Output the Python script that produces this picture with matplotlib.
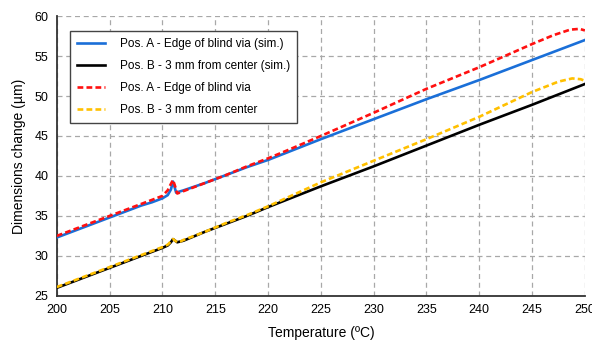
import matplotlib
matplotlib.use("Agg")
import matplotlib.pyplot as plt

plt.rcParams['font.family'] = ['Liberation Sans', 'DejaVu Sans']

# Pos. A simulation (blue)
tA_sim = [200, 202, 204, 206, 208, 209, 210, 210.5, 210.8, 211.0, 211.15, 211.3, 211.5, 212,
          214, 216, 218, 220, 225, 230, 235, 240, 245, 250]
A_sim = [32.3, 33.3, 34.3, 35.3, 36.3, 36.7, 37.2, 37.6, 38.3, 39.3, 38.6, 37.9, 38.0, 38.2,
         39.1, 40.1, 41.1, 42.0, 44.6, 47.1, 49.6, 52.0, 54.5, 57.0]

# Pos. B simulation (black)
tB_sim = [200, 202, 204, 206, 208, 209, 210, 210.5, 210.8, 211.0, 211.2, 211.4, 211.7, 212,
          214, 216, 218, 220, 225, 230, 235, 240, 245, 250]
B_sim = [26.0, 27.0, 28.0, 29.0, 30.0, 30.5, 31.0, 31.3, 31.7, 32.1, 31.9, 31.7, 31.8, 31.9,
         33.0, 34.0, 35.0, 36.1, 38.7, 41.2, 43.8, 46.4, 48.9, 51.5]

# Pos. A measured (red dashed)
tA_exp = [200, 202, 204, 206, 208, 209, 210, 210.5, 210.8, 211.0, 211.2, 211.4, 211.6, 212,
          214, 216, 218, 220, 222, 225, 230, 235, 240, 245, 247, 248.6, 249.5, 250]
A_exp = [32.5, 33.5, 34.5, 35.5, 36.5, 37.0, 37.5, 38.2, 39.0, 39.5, 38.7, 37.8, 37.9, 38.1,
         39.1, 40.1, 41.2, 42.2, 43.3, 45.0, 47.9, 50.9, 53.6, 56.5, 57.6, 58.3, 58.4, 58.2]

# Pos. B measured (yellow dashed)
tB_exp = [200, 202, 204, 206, 208, 209, 210, 210.5, 210.8, 211.0, 211.2, 211.4, 211.7, 212,
          214, 216, 218, 220, 222, 225, 230, 235, 240, 245, 247.5, 248.8, 249.6, 250]
B_exp = [26.1, 27.1, 28.1, 29.1, 30.1, 30.6, 31.1, 31.4, 31.8, 32.1, 31.9, 31.7, 31.8, 32.0,
         33.0, 34.1, 35.1, 36.2, 37.4, 39.2, 41.9, 44.6, 47.4, 50.5, 51.8, 52.2, 52.1, 51.9]

labels = ["Pos. A - Edge of blind via (sim.)",
          "Pos. B - 3 mm from center (sim.)",
          "Pos. A - Edge of blind via",
          "Pos. B - 3 mm from center"]

xticks = list(range(200, 251, 5))
yticks = list(range(25, 61, 5))

fig = plt.figure(figsize=(5.92, 3.42), dpi=100)
ax = fig.add_axes([0.096, 0.135, 0.892, 0.818])

ax.plot(tA_sim, A_sim, color='#1a6fd8', lw=1.9, label=labels[0], zorder=3)
ax.plot(tB_sim, B_sim, color='black', lw=1.9, label=labels[1], zorder=3)
ax.plot(tA_exp, A_exp, color='#ff1010', lw=1.9, dashes=(2.2, 1.2), label=labels[2], zorder=4)
ax.plot(tB_exp, B_exp, color='#ffc000', lw=1.9, dashes=(2.2, 1.2), label=labels[3], zorder=4)

ax.set_xlim(200, 250)
ax.set_ylim(25, 60)
ax.set_xticks(xticks)
ax.set_yticks(yticks)
ax.grid(True, color='#a8a8a8', linestyle=(0, (4, 3)), lw=0.9)
ax.set_axisbelow(True)
for s in ['top', 'right']:
    ax.spines[s].set_visible(False)
for s in ['left', 'bottom']:
    ax.spines[s].set_linewidth(1.3)
    ax.spines[s].set_color('#333333')
ax.tick_params(length=0, labelsize=9, pad=6)

ax.set_xlabel("Temperature (ºC)", fontsize=10, labelpad=7)
ax.set_ylabel("Dimensions change (µm)", fontsize=10, labelpad=6)

leg = ax.legend(loc='upper left', bbox_to_anchor=(0.025, 0.945), fontsize=8.5,
                handlelength=2.45, labelspacing=0.85, handletextpad=1.25,
                borderpad=0.55, borderaxespad=0, fancybox=False, framealpha=1)
leg.get_frame().set_edgecolor('#444444')
leg.get_frame().set_linewidth(1.0)

fig.savefig("out.png", dpi=100)
